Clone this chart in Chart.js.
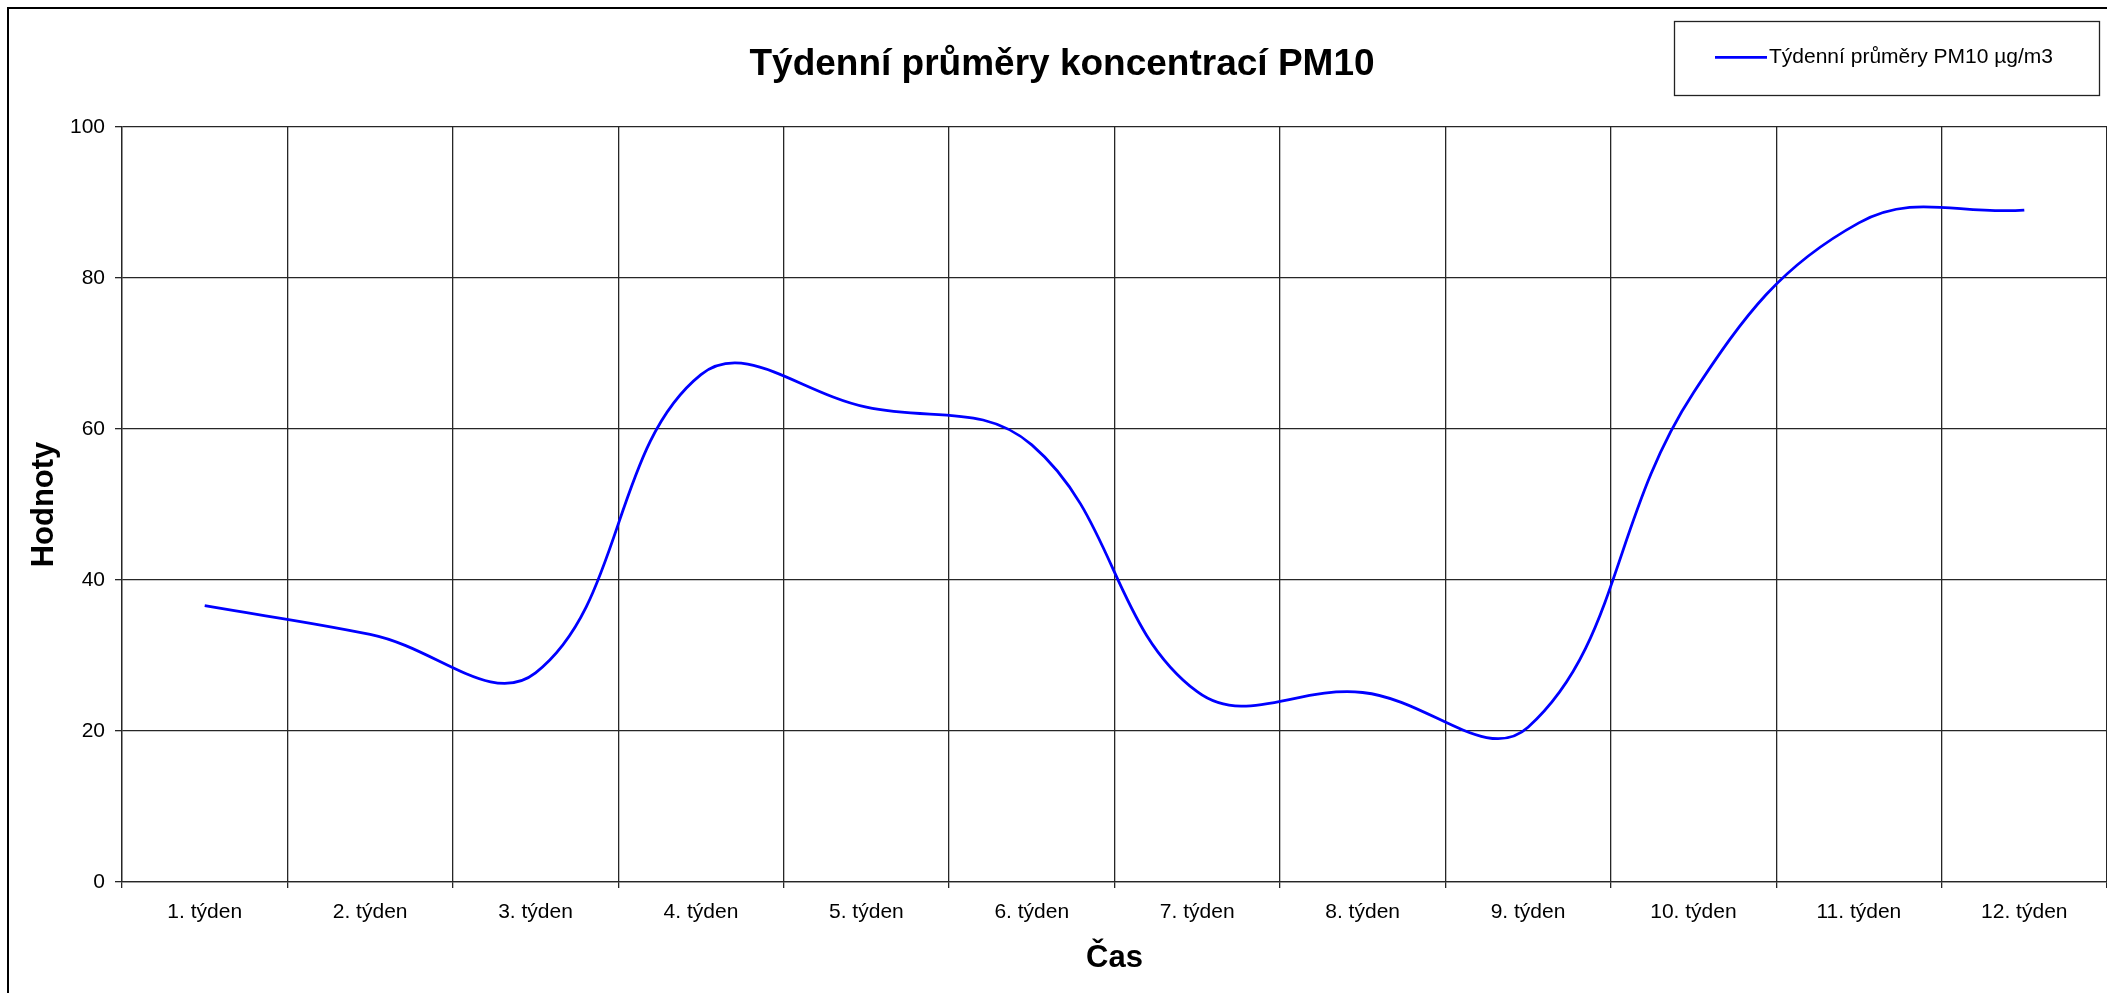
<!DOCTYPE html>
<html>
<head>
<meta charset="utf-8">
<script src="https://cdn.jsdelivr.net/npm/chart.js@4.4.0/dist/chart.umd.min.js"></script>
<style>
html,body{margin:0;padding:0;background:#fff;overflow:hidden}
canvas{display:block}
</style>
</head>
<body>
<canvas id="c" width="2107" height="993"></canvas>
<script>
const categories = ['1. týden','2. týden','3. týden','4. týden','5. týden','6. týden','7. týden','8. týden','9. týden','10. týden','11. týden','12. týden'];
const pm10Values = [36.6, 32.8, 27.7, 67.2, 62.9, 57.9, 25.2, 25.1, 20.5, 64.8, 87.3, 89.0];
const yTickValues = [0, 20, 40, 60, 80, 100];
const seriesLabel = 'Týdenní průměry PM10 µg/m3';
const chartTitle = 'Týdenní průměry koncentrací PM10';
const xAxisTitle = 'Čas';
const yAxisTitle = 'Hodnoty';

const FONT = "'Liberation Sans', Arial, sans-serif";
const GRID = '#262626';

const framePlugin = {
  id: 'frameLegend',
  beforeDraw(chart) {
    const ctx = chart.ctx;
    ctx.save();
    ctx.fillStyle = '#fff';
    ctx.fillRect(0, 0, chart.width, chart.height);
    ctx.restore();
  },
  afterDraw(chart) {
    const ctx = chart.ctx;
    ctx.save();
    // outer frame
    ctx.strokeStyle = '#000';
    ctx.lineWidth = 2;
    ctx.strokeRect(8, 8, 2300, 1200);
    // legend box
    ctx.lineWidth = 1.3;
    ctx.strokeStyle = '#222';
    ctx.strokeRect(1674.5, 21.5, 425, 74);
    const ds = chart.data.datasets[0];
    ctx.strokeStyle = ds.borderColor;
    ctx.lineWidth = 2.7;
    ctx.beginPath();
    ctx.moveTo(1715, 57.3);
    ctx.lineTo(1767, 57.3);
    ctx.stroke();
    ctx.fillStyle = '#000';
    ctx.font = '21px ' + FONT;
    ctx.textBaseline = 'middle';
    ctx.textAlign = 'left';
    ctx.fillText(ds.label, 1769, 57);
    ctx.restore();
  }
};

new Chart(document.getElementById('c'), {
  type: 'line',
  data: {
    labels: categories,
    datasets: [{
      label: seriesLabel,
      data: pm10Values,
      borderColor: '#0000FF',
      backgroundColor: '#0000FF',
      borderWidth: 2.8,
      pointRadius: 0,
      pointHoverRadius: 0,
      tension: 0.4,
      fill: false
    }]
  },
  options: {
    responsive: false,
    devicePixelRatio: 1,
    animation: false,
    events: [],
    layout: { padding: { left: 17, right: 0, top: 0, bottom: 0 } },
    plugins: {
      legend: { display: false },
      tooltip: { enabled: false },
      title: {
        display: true,
        text: chartTitle,
        color: '#000',
        font: { family: FONT, size: 37, weight: 'bold' },
        padding: { top: 42.5, bottom: 40.1 }
      }
    },
    scales: {
      x: {
        type: 'category',
        offset: true,
        grid: { offset: true, color: GRID, lineWidth: 1.3, tickLength: 6, drawTicks: true },
        border: { color: GRID, width: 1.3 },
        ticks: { color: '#000', font: { family: FONT, size: 21 }, padding: 11.5, maxRotation: 0, autoSkip: false },
        title: { display: true, text: xAxisTitle, color: '#000', font: { family: FONT, size: 31, weight: 'bold' }, padding: { top: 0, bottom: 16.4 } },
        afterFit(scale) { scale.height = 111; }
      },
      y: {
        min: 0,
        max: 100,
        afterBuildTicks(scale) { scale.ticks = yTickValues.map(v => ({ value: v })); },
        grid: { color: GRID, lineWidth: 1.3, tickLength: 7 },
        border: { color: GRID, width: 1.3 },
        ticks: { color: '#000', font: { family: FONT, size: 21 }, padding: 10 },
        title: { display: true, text: yAxisTitle, color: '#000', font: { family: FONT, size: 31, weight: 'bold' }, padding: { top: 9, bottom: 0 } },
        afterFit(scale) { scale.width = 105; }
      }
    }
  },
  plugins: [framePlugin]
});
</script>
</body>
</html>
